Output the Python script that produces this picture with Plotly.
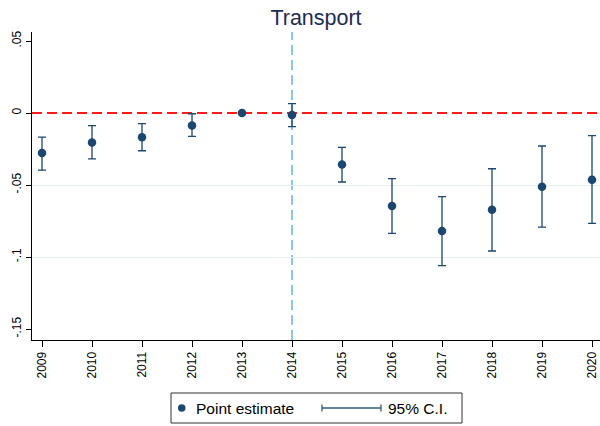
import plotly.graph_objects as go

# ---- data ----
years = [2009, 2010, 2011, 2012, 2013, 2014, 2015, 2016, 2017, 2018, 2019, 2020]
estimate = [-0.0278, -0.0204, -0.0169, -0.0086, 0.0, -0.0014, -0.0357, -0.0646, -0.0819, -0.0671, -0.0512, -0.0463]
ci_upper = [-0.0167, -0.0088, -0.0074, -0.0005, None, 0.0065, -0.0238, -0.0456, -0.0581, -0.0387, -0.0229, -0.0157]
ci_lower = [-0.0396, -0.0319, -0.0262, -0.0162, None, -0.0095, -0.0479, -0.0836, -0.1060, -0.0958, -0.0792, -0.0766]
ytick_vals = [0.05, 0.0, -0.05, -0.10, -0.15]
ytick_text = [".05", "0", "-.05", "-.1", "-.15"]
grid_vals = [-0.05, -0.10]
event_year = 2014
ref_value = 0.0
title = "Transport"
legend_labels = ["Point estimate", "95% C.I."]

NAVY = "#1a476f"
FONT = "Liberation Sans, Arial, Helvetica, sans-serif"

W, H = 600, 426
ML, MR, MT, MB = 32, 0, 32, 86
PW, PH = W - ML - MR, H - MT - MB

def px(x):
    return (x - ML) / PW

def py(y):
    return (H - MB - y) / PH

err_plus = [None if u is None else u - e for u, e in zip(ci_upper, estimate)]
err_minus = [None if l is None else e - l for l, e in zip(ci_lower, estimate)]

fig = go.Figure()

# grid-only overlay axis (grid only at interior ticks)
fig.add_trace(go.Scatter(x=[years[0]], y=[grid_vals[0]], yaxis="y2", mode="markers",
                         marker=dict(opacity=0), hoverinfo="skip", showlegend=False))

fig.add_trace(go.Scatter(
    x=years, y=estimate, mode="markers",
    marker=dict(color=NAVY, size=8.5),
    error_y=dict(type="data", symmetric=False, array=err_plus, arrayminus=err_minus,
                 color=NAVY, thickness=1.3, width=4),
    showlegend=False, name=legend_labels[0],
))

yr = [-0.1576, 0.05625]
xr = [2008.8, 2020.16]

fig.update_layout(
    width=W, height=H,
    margin=dict(l=ML, r=MR, t=MT, b=MB),
    paper_bgcolor="white", plot_bgcolor="white",
    font=dict(family=FONT, color="black", size=12),
    title=dict(text=title, x=316 / W, xanchor="center",
               y=1 - 17 / H, yanchor="middle",
               font=dict(size=21.5, color="#1e2d54", family=FONT)),
    xaxis=dict(range=xr, tickvals=years, ticktext=[str(y) for y in years],
               tickangle=-90, ticks="outside", ticklen=6, tickcolor="black",
               showline=True, linecolor="black", linewidth=1, showgrid=False,
               zeroline=False, tickfont=dict(size=12, family=FONT)),
    yaxis=dict(range=yr, tickvals=ytick_vals, ticktext=ytick_text, tickangle=-90,
               ticks="outside", ticklen=5, tickcolor="black",
               showline=True, linecolor="black", linewidth=1, showgrid=False,
               zeroline=False, tickfont=dict(size=12, family=FONT)),
    yaxis2=dict(range=yr, overlaying="y", tickvals=grid_vals, showticklabels=False,
                showgrid=True, gridcolor="#e6eeef", gridwidth=1, zeroline=False,
                showline=False, ticks=""),
)

# reference lines
fig.add_shape(type="line", xref="x", yref="paper", x0=event_year, x1=event_year, y0=0, y1=1,
              line=dict(color="#8cc6ec", width=2, dash="10px,5px"), layer="below")
fig.add_shape(type="line", xref="paper", yref="y", x0=0, x1=1, y0=ref_value, y1=ref_value,
              line=dict(color="#ff1a1a", width=2, dash="10px,5px"), layer="below")

# manual legend
fig.add_shape(type="rect", xref="paper", yref="paper", x0=px(171), x1=px(462),
              y0=py(423), y1=py(393), line=dict(color="#333333", width=1), fillcolor="white")
fig.add_shape(type="circle", xref="paper", yref="paper", x0=px(178), x1=px(185.5),
              y0=py(411.7), y1=py(404.2), line=dict(color=NAVY, width=0), fillcolor=NAVY)
fig.add_shape(type="line", xref="paper", yref="paper", x0=px(322), x1=px(381),
              y0=py(408), y1=py(408), line=dict(color="#2f5a80", width=1.3))
for cx in (322, 381):
    fig.add_shape(type="line", xref="paper", yref="paper", x0=px(cx), x1=px(cx),
                  y0=py(411.5), y1=py(404.5), line=dict(color="#2f5a80", width=1.3))
fig.add_annotation(xref="paper", yref="paper", x=px(194), y=py(408), xanchor="left",
                   yanchor="middle", text=legend_labels[0], showarrow=False,
                   font=dict(size=15.5, family=FONT, color="black"))
fig.add_annotation(xref="paper", yref="paper", x=px(386), y=py(408), xanchor="left",
                   yanchor="middle", text=legend_labels[1], showarrow=False,
                   font=dict(size=15.5, family=FONT, color="black"))

fig.write_html("out.html")
